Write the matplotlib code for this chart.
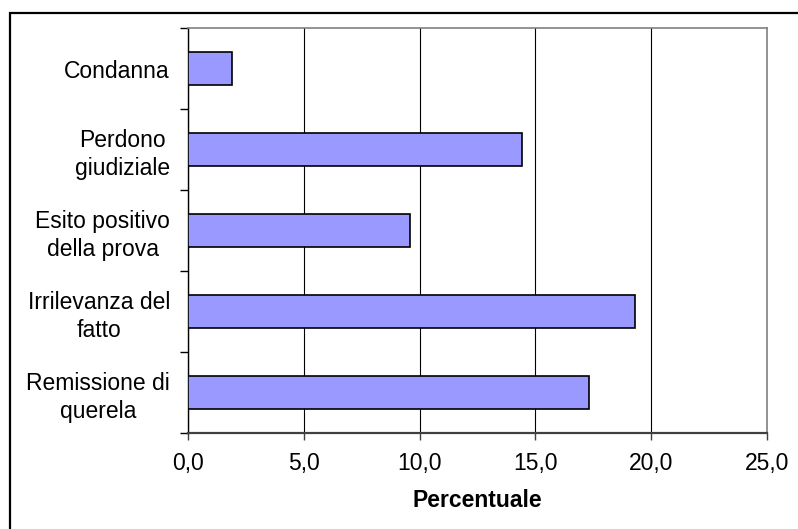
import matplotlib

matplotlib.use("Agg")
import matplotlib.pyplot as plt
from matplotlib.patches import Rectangle
import numpy as np

plt.rcParams["font.family"] = ["Liberation Sans", "DejaVu Sans"]

# categorie dall'alto verso il basso
categories = [
    "Condanna",
    "Perdono\ngiudiziale",
    "Esito positivo\ndella prova",
    "Irrilevanza del\nfatto",
    "Remissione di\nquerela",
]
percent = [1.9, 14.4, 9.6, 19.3, 17.3]
x_ticks = [0, 5, 10, 15, 20, 25]
x_labels = ["0,0", "5,0", "10,0", "15,0", "20,0", "25,0"]

W, H = 798, 529
fig = plt.figure(figsize=(W / 100, H / 100), dpi=100)
ax = fig.add_axes([188 / W, 1 - 433 / H, (767 - 188) / W, (433 - 28) / H])

y = np.arange(len(categories))
ax.barh(y, percent, height=0.41, color="#9999ff", edgecolor="black", linewidth=1.2, zorder=3)

ax.set_xlim(0, 25)
ax.set_ylim(len(categories) - 0.5, -0.5)

ax.set_xticks(x_ticks)
ax.set_xticklabels(x_labels, fontsize=16.5)
ax.tick_params(axis="x", direction="out", length=5, width=1, color="#404040", pad=9)
ax.xaxis.grid(True, color="black", linewidth=0.8, zorder=1)

ax.set_yticks(y)
ax.set_yticklabels(categories, fontsize=16.5, multialignment="center", linespacing=1.3)
ax.tick_params(axis="y", which="major", length=0, pad=13)
ax.set_yticks(np.arange(-0.5, len(categories)), minor=True)
ax.tick_params(axis="y", which="minor", direction="out", length=6, width=1, color="black")

ax.set_xlabel("Percentuale", fontsize=16.5, fontweight="bold", labelpad=10)

for side in ("top", "right"):
    ax.spines[side].set_color("#808080")
    ax.spines[side].set_linewidth(1.2)
ax.spines["left"].set_color("black")
ax.spines["left"].set_linewidth(1.0)
ax.spines["bottom"].set_color("#404040")
ax.spines["bottom"].set_linewidth(1.6)

# cornice esterna del grafico
fig.add_artist(Rectangle((10 / W, -0.1), 1.2, 1.1 - 13 / H, transform=fig.transFigure,
                         fill=False, edgecolor="black", linewidth=1.6))

fig.savefig("out.png", dpi=100)
